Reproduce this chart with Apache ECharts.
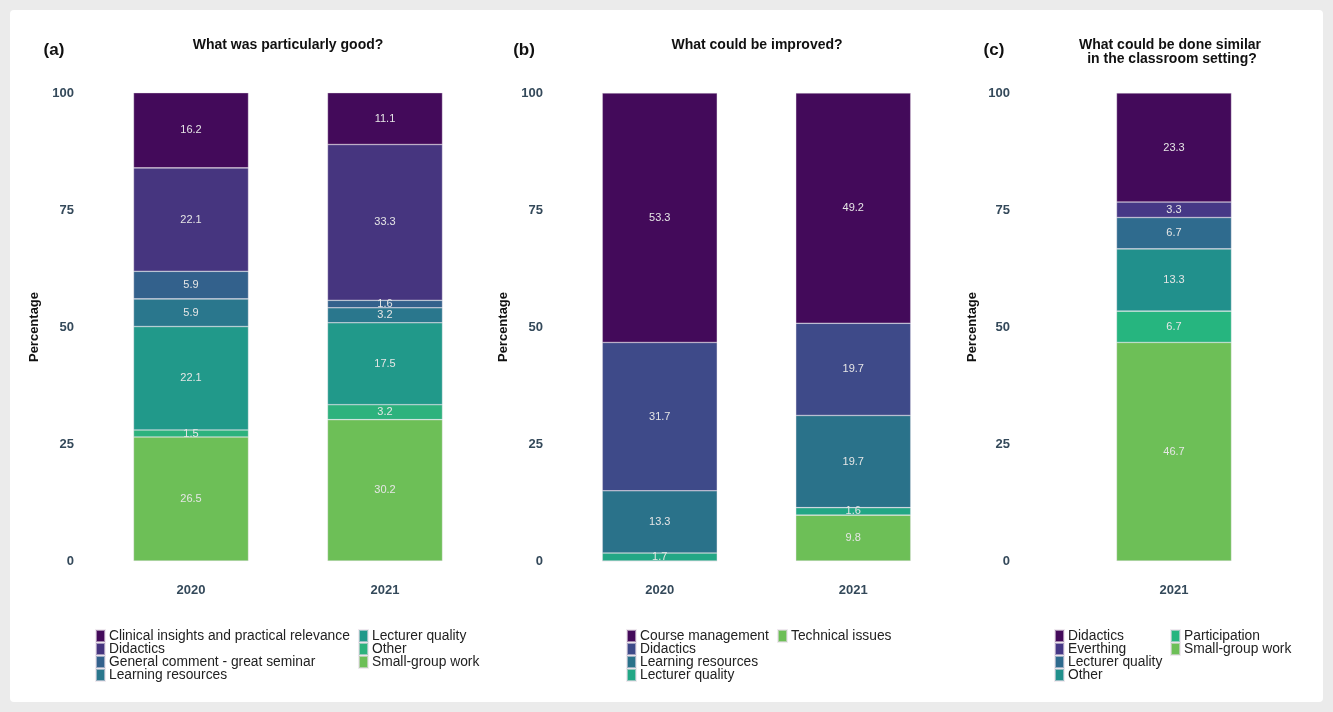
<!DOCTYPE html>
<html><head><meta charset="utf-8">
<script src="https://cdn.jsdelivr.net/npm/echarts@6/dist/echarts.min.js"></script>
<style>html,body{margin:0;padding:0;background:#ebebeb;}#c{width:1333px;height:712px;}</style>
</head><body><div id="c"></div>
<script>
// Panel (a) data
const yearsA = ['2020', '2021'];
const namesA = ['Clinical insights and practical relevance', 'Didactics', 'General comment - great seminar', 'Learning resources', 'Lecturer quality', 'Other', 'Small-group work'];
const a_clinical = [16.2, 11.1];
const a_didactics = [22.1, 33.3];
const a_general = [5.9, 1.6];
const a_learning = [5.9, 3.2];
const a_lecturer = [22.1, 17.5];
const a_other = [1.5, 3.2];
const a_smallgroup = [26.5, 30.2];
const valuesA = [a_clinical, a_didactics, a_general, a_learning, a_lecturer, a_other, a_smallgroup];
const colorsA = ['#430a5a', '#46357f', '#33618c', '#2a778d', '#21998a', '#2db27d', '#6dbf57'];

// Panel (b) data
const yearsB = ['2020', '2021'];
const namesB = ['Course management', 'Didactics', 'Learning resources', 'Lecturer quality', 'Technical issues'];
const b_course = [53.3, 49.2];
const b_didactics = [31.7, 19.7];
const b_learning = [13.3, 19.7];
const b_lecturer = [1.7, 1.6];
const b_technical = [0, 9.8];
const valuesB = [b_course, b_didactics, b_learning, b_lecturer, b_technical];
const colorsB = ['#430a5a', '#3e4a89', '#2a728a', '#22a785', '#6dbf57'];

// Panel (c) data
const yearsC = ['2021'];
const namesC = ['Didactics', 'Everthing', 'Lecturer quality', 'Other', 'Participation', 'Small-group work'];
const c_didactics = [23.3];
const c_everything = [3.3];
const c_lecturer = [6.7];
const c_other = [13.3];
const c_participation = [6.7];
const c_smallgroup = [46.7];
const valuesC = [c_didactics, c_everything, c_lecturer, c_other, c_participation, c_smallgroup];
const colorsC = ['#430a5a', '#463886', '#2f6b8e', '#21908c', '#26b57f', '#6dbf57'];

const yTicks = [0, 25, 50, 75, 100];

const FONT = '"Liberation Sans", Arial, sans-serif';
const chart = echarts.init(document.getElementById('c'));

const grids = [
  { left: 94, width: 388, top: 93, height: 468 },
  { left: 563, width: 387, top: 93, height: 468 },
  { left: 1030, width: 288, top: 93, height: 468 }
];
const panels = [
  { key: 'a', cats: yearsA, names: namesA, vals: valuesA, colors: colorsA, nameGap: 53 },
  { key: 'b', cats: yearsB, names: namesB, vals: valuesB, colors: colorsB, nameGap: 53 },
  { key: 'c', cats: yearsC, names: namesC, vals: valuesC, colors: colorsC, nameGap: 51 }
];

const xAxes = [], yAxes = [], series = [];
panels.forEach((p, i) => {
  xAxes.push({
    type: 'category', gridIndex: i, data: p.cats,
    axisLine: { show: false }, axisTick: { show: false },
    axisLabel: { margin: 23, fontFamily: FONT, fontWeight: 'bold', fontSize: 13, color: '#34495a' }
  });
  yAxes.push({
    type: 'value', gridIndex: i, min: yTicks[0], max: yTicks[yTicks.length - 1], interval: 25,
    splitLine: { show: false }, axisLine: { show: false }, axisTick: { show: false },
    axisLabel: { margin: 20, fontFamily: FONT, fontWeight: 'bold', fontSize: 13, color: '#34495a' },
    name: 'Percentage', nameLocation: 'middle', nameRotate: 90, nameGap: p.nameGap,
    nameTextStyle: { fontFamily: FONT, fontWeight: 'bold', fontSize: 13, color: '#111' }
  });
  // bottom-most first
  for (let k = p.names.length - 1; k >= 0; k--) {
    series.push({
      type: 'bar', name: p.key + '|' + p.names[k], stack: p.key,
      xAxisIndex: i, yAxisIndex: i, barWidth: 115,
      data: p.vals[k],
      itemStyle: { color: p.colors[k], borderColor: 'rgba(230,220,230,0.6)', borderWidth: 0.6 },
      label: {
        show: true, position: 'inside', fontFamily: FONT, fontSize: 11, color: '#e6e6e6',
        formatter: prm => prm.value > 0 ? prm.value.toFixed(1) : ''
      },
      emphasis: { disabled: true }
    });
  }
});

function legend(key, names, left) {
  return {
    orient: 'vertical', left: left, top: 629, itemWidth: 9, itemHeight: 12, itemGap: -1,
    icon: 'rect', padding: 0, selectedMode: false,
    data: names.map(n => key + '|' + n),
    formatter: n => n.split('|')[1],
    textStyle: { fontFamily: FONT, fontSize: 13.8, color: '#222', padding: [0, 0, 0, -1] }
  };
}
const legends = [
  legend('a', namesA.slice(0, 4), 95), legend('a', namesA.slice(4), 358),
  legend('b', namesB.slice(0, 4), 626), legend('b', namesB.slice(4), 777),
  legend('c', namesC.slice(0, 4), 1054), legend('c', namesC.slice(4), 1170)
];

function txt(x, y, s, size, align) {
  return { type: 'text', x: x, y: y, z: 10,
    style: { text: s, fontFamily: FONT, fontWeight: 'bold', fontSize: size, fill: '#111', align: align || 'center', verticalAlign: 'middle', lineHeight: 14 } };
}

chart.setOption({
  animation: false,
  backgroundColor: '#ebebeb',
  grid: grids,
  xAxis: xAxes,
  yAxis: yAxes,
  series: series,
  legend: legends,
  graphic: [
    { type: 'rect', shape: { x: 10, y: 10, width: 1313, height: 692, r: 4 }, style: { fill: '#ffffff' }, z: -100, silent: true },
    txt(54, 50, '(a)', 17), txt(288, 45, 'What was particularly good?', 14),
    txt(524, 50, '(b)', 17), txt(757, 45, 'What could be improved?', 14),
    txt(994, 50, '(c)', 17), txt(1170, 52, 'What could be done similar\n in the classroom setting?', 14)
  ]
});
</script></body></html>
